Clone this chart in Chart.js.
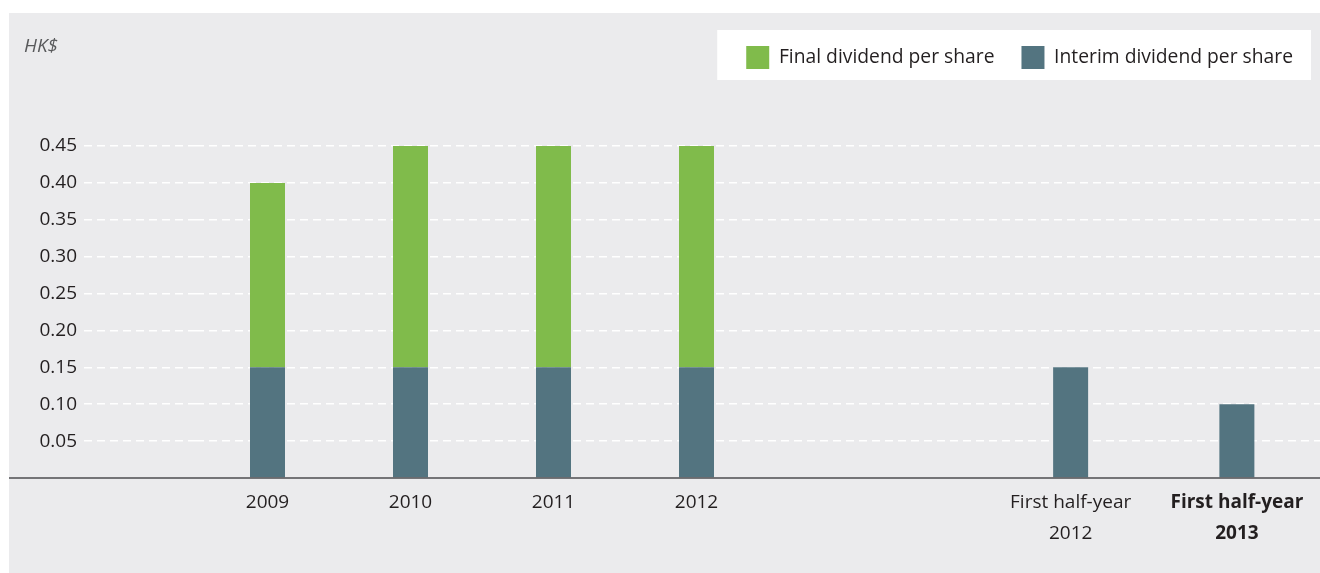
<!DOCTYPE html>
<html>
<head>
<meta charset="utf-8">
<script src="https://cdn.jsdelivr.net/npm/chart.js@4.4.1/dist/chart.umd.min.js"></script>
<style>
  body { margin: 0; background: #fff; }
  #wrap { position: absolute; left: 9px; top: 13px; width: 1311px; height: 560px; background: #ebebed; }
</style>
</head>
<body>
<div id="wrap"><canvas id="myChart" width="1311" height="560"></canvas></div>
<script>
const yearLabels = ['2009', '2010', '2011', '2012'];
const halfYearLabels = [['First half-year', '2012'], ['First half-year', '2013']];
const interimDividend = [0.15, 0.15, 0.15, 0.15];
const finalDividend = [0.25, 0.30, 0.30, 0.30];
const halfYearInterim = [0.15, 0.10];

const green = '#80bb4b';
const slate = '#537480';
const textColor = '#231f20';
const fontFamily = '"Open Sans", sans-serif';

// white box behind legend, unit label, baseline
const extras = {
  id: 'extras',
  beforeInit(chart) {
    const fit = chart.legend.fit;
    chart.legend.fit = function () {
      fit.bind(chart.legend)();
      this.height += 67;
    };
  },
  beforeDraw(chart) {
    const ctx = chart.ctx;
    const hb = chart.legend.legendHitBoxes;
    if (hb && hb.length) {
      const last = hb[hb.length - 1];
      ctx.save();
      ctx.fillStyle = '#fff';
      ctx.fillRect(hb[0].left - 29, hb[0].top - 16, last.left + last.width + 18 - (hb[0].left - 29), 50);
      ctx.restore();
    }
    ctx.save();
    ctx.font = 'italic 19px ' + fontFamily;
    ctx.fillStyle = '#58595b';
    ctx.textBaseline = 'middle';
    ctx.fillText('HK$', 15, 34);
    ctx.restore();
  },
  afterDatasetsDraw(chart) {
    const ctx = chart.ctx;
    const y = chart.scales.y.getPixelForValue(0);
    ctx.save();
    ctx.strokeStyle = '#4d4d4f';
    ctx.lineWidth = 1.5;
    ctx.beginPath();
    ctx.moveTo(0, y);
    ctx.lineTo(chart.width, y);
    ctx.stroke();
    ctx.restore();
  }
};

// fixed height, no label overhang padding
const fixX = s => {
  s.height = 95;
  s.paddingLeft = 0;
  s.paddingRight = 0;
};

const xTicks = {
  color: textColor,
  font: { family: fontFamily, size: 19, lineHeight: 1.63 },
  padding: 1.5,
  autoSkip: false,
  maxRotation: 0
};

const chart = new Chart(document.getElementById('myChart'), {
  type: 'bar',
  data: {
    datasets: [
      { label: 'Interim dividend per share', data: interimDividend, backgroundColor: slate, xAxisID: 'x' },
      { label: 'Final dividend per share', data: finalDividend, backgroundColor: green, xAxisID: 'x' },
      { label: 'Interim dividend per share', data: halfYearInterim, backgroundColor: slate, xAxisID: 'xHalf' }
    ]
  },
  options: {
    responsive: false,
    animation: false,
    devicePixelRatio: 1,
    events: [],
    grouped: false,
    maxBarThickness: 35,
    layout: { padding: { top: 6, left: 0, right: 0, bottom: 0 } },
    plugins: {
      tooltip: { enabled: false },
      legend: {
        position: 'top',
        align: 'end',
        reverse: true,
        labels: {
          filter: item => item.datasetIndex < 2,
          boxWidth: 23,
          boxHeight: 23,
          padding: 27,
          color: textColor,
          font: { family: fontFamily, size: 19.3 }
        }
      }
    },
    scales: {
      x: {
        type: 'category', axis: 'x', labels: yearLabels, offset: true, stacked: true,
        stack: 'bottom', stackWeight: 572,
        grid: { display: false }, border: { display: false },
        ticks: xTicks,
        afterFit: fixX
      },
      xGap: {
        type: 'category', axis: 'x', labels: [''], offset: true,
        stack: 'bottom', stackWeight: 219.5,
        grid: { display: false }, border: { display: false },
        ticks: { display: false },
        afterFit: fixX
      },
      xHalf: {
        type: 'category', axis: 'x', labels: halfYearLabels, offset: true, stacked: true,
        stack: 'bottom', stackWeight: 332.5,
        grid: { display: false }, border: { display: false },
        ticks: Object.assign({}, xTicks, {
          font: c => ({ family: fontFamily, size: 19, lineHeight: 1.63, weight: c.index === 1 ? 'bold' : 'normal' })
        }),
        afterFit: fixX
      },
      y: {
        position: 'left',
        stacked: true,
        min: 0,
        max: 0.45,
        afterFit: s => { s.width = 187; },
        border: { display: false, dash: [8, 5] },
        grid: {
          color: c => c.tick && c.tick.value === 0 ? 'transparent' : '#ffffff',
          tickColor: c => c.tick && c.tick.value === 0 ? 'transparent' : '#ffffff',
          lineWidth: 1.5,
          tickWidth: 1.5,
          tickLength: 112,
          tickBorderDash: [8, 5]
        },
        ticks: {
          stepSize: 0.05,
          padding: 7,
          color: textColor,
          font: { family: fontFamily, size: 19 },
          callback: v => v === 0 ? '' : v.toFixed(2)
        }
      }
    }
  },
  plugins: [extras]
});
</script>
</body>
</html>
